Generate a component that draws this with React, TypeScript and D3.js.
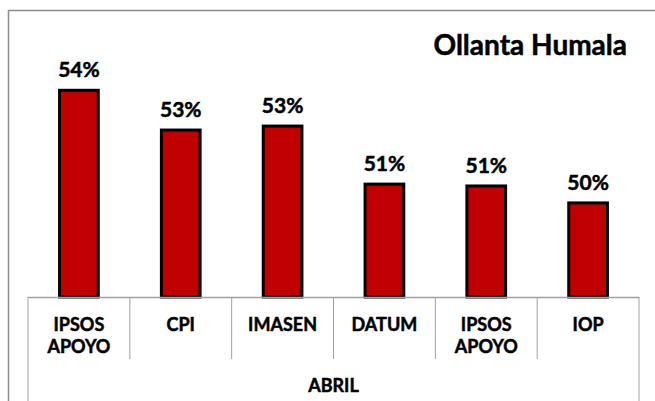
import { scaleBand, scaleLinear, format } from 'd3';

const categories = ['IPSOS\nAPOYO', 'CPI', 'IMASEN', 'DATUM', 'IPSOS\nAPOYO', 'IOP'];
const values = [54.3, 52.8, 52.95, 50.76, 50.69, 50.05];
const groupLabel = 'ABRIL';
const title = 'Ollanta Humala';

const width = 655;
const height = 401;
const font = 'Lato, "Open Sans", sans-serif';

// Lato bold is a bit lighter than the original's font, thicken it slightly
const textStyle = { stroke: '#000', strokeWidth: 0.5 };

const App = () => {
  const left = 28;
  const right = 639;
  const baseY = 297;

  const keys = categories.map((_, i) => String(i));

  const x = scaleBand()
    .domain(keys)
    .range([left, right])
    .paddingInner(0.62)
    .paddingOuter(0.31);

  const y = scaleLinear().domain([46.5, 55]).range([baseY, baseY - 8.5 * 26.5]);

  const step = (right - left) / categories.length;
  const fmt = format('.0f');

  return (
    <svg
      width={width}
      height={height}
      style={{ position: 'absolute', left: 0, top: 0, background: '#fff' }}
    >
      {/* outer chart border (runs off the right/bottom edge) */}
      <rect x={8.5} y={10.5} width={800} height={600} fill="#fff" stroke="#8c8c8c" strokeWidth={1.5} />

      <text x={627} y={55} textAnchor="end" fontFamily={font} fontWeight="bold" fontSize={28} fill="#000" style={textStyle}>
        {title}
      </text>

      {/* bars */}
      {values.map((v, i) => (
        <rect
          key={'b' + i}
          x={x(keys[i])}
          y={y(v)}
          width={x.bandwidth()}
          height={baseY - y(v)}
          fill="#C00000"
          stroke="#000"
          strokeWidth={3}
        />
      ))}

      {/* data labels */}
      {values.map((v, i) => (
        <text
          key={'l' + i}
          x={x(keys[i]) + x.bandwidth() / 2}
          y={y(v) - 13}
          textAnchor="middle"
          fontFamily={font}
          fontWeight="bold"
          fontSize={21}
          fill="#000"
          style={textStyle}
        >
          {fmt(v) + '%'}
        </text>
      ))}

      {/* category axis */}
      <line x1={left} x2={right} y1={baseY + 0.5} y2={baseY + 0.5} stroke="#a0a0a0" strokeWidth={1.5} />
      {keys.map((k, i) =>
        i === 0 ? null : (
          <line
            key={'t' + k}
            x1={left + step * i}
            x2={left + step * i}
            y1={baseY}
            y2={359}
            stroke="#a0a0a0"
            strokeWidth={1}
          />
        )
      )}
      <line x1={left} x2={left} y1={baseY} y2={height} stroke="#a0a0a0" strokeWidth={1} />
      <line x1={right} x2={right} y1={baseY} y2={height} stroke="#a0a0a0" strokeWidth={1} />

      {categories.map((c, i) => (
        <text
          key={'c' + i}
          x={x(keys[i]) + x.bandwidth() / 2}
          y={330.5}
          textAnchor="middle"
          fontFamily={font}
          fontWeight="bold"
          fontSize={18}
          fill="#000"
          style={textStyle}
        >
          {c.split('\n').map((line, j) => (
            <tspan key={j} x={x(keys[i]) + x.bandwidth() / 2} dy={j === 0 ? 0 : 22.5}>
              {line}
            </tspan>
          ))}
        </text>
      ))}

      <text
        x={(left + right) / 2}
        y={392}
        textAnchor="middle"
        fontFamily={font}
        fontWeight="bold"
        fontSize={18}
        fill="#000"
        style={textStyle}
      >
        {groupLabel}
      </text>
    </svg>
  );
};

export default App;
